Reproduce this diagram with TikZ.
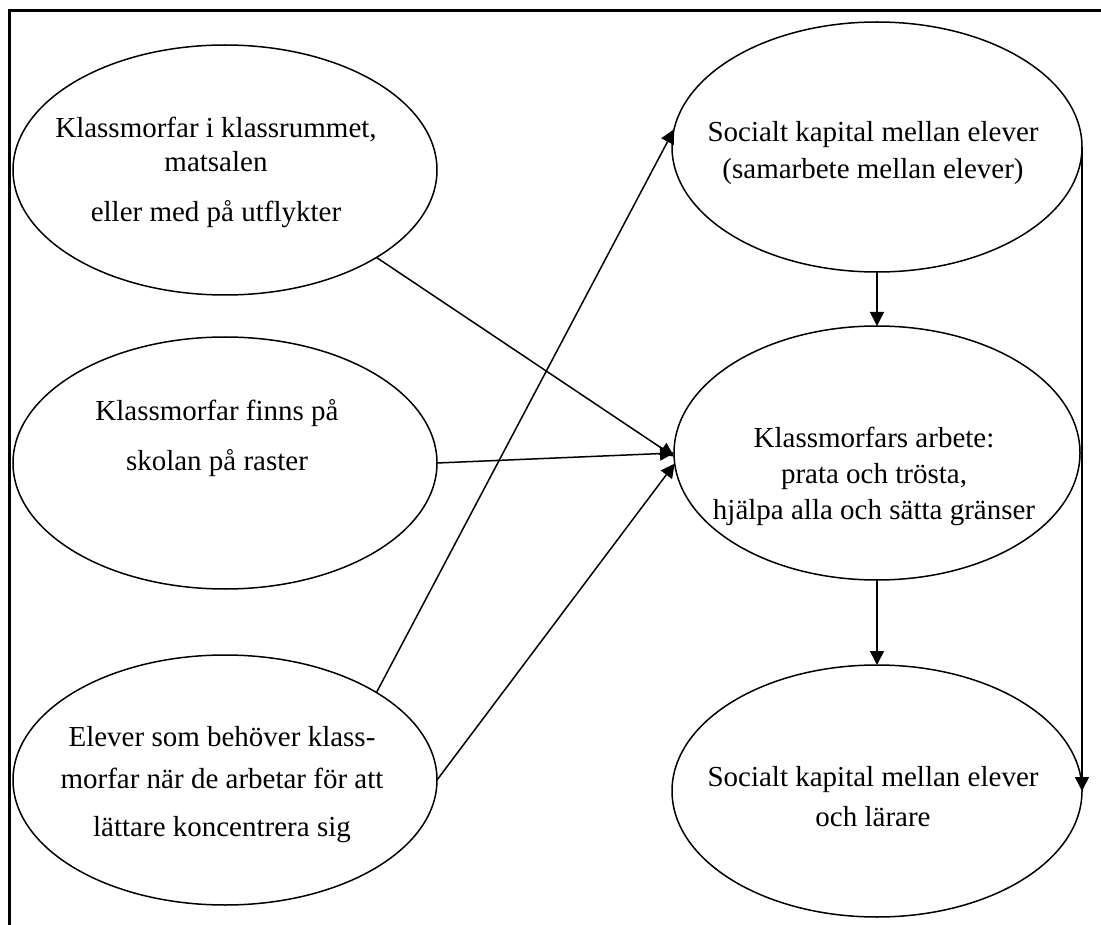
\documentclass[tikz,border=0pt]{standalone}
\usepackage{fontspec}
\setmainfont{Liberation Serif}
\usetikzlibrary{shapes.geometric,arrows.meta}
\begin{document}
\begin{tikzpicture}[x=1pt,y=-1pt,
  oval/.style={draw,shape=ellipse,line width=1.5pt,inner sep=0pt,outer sep=0pt},
  txt/.style={align=center,inner sep=0pt,font=\fontsize{29}{34}\selectfont},
  arr/.style={line width=1.5pt,-{Triangle[length=14pt,width=14pt]}}]
\useasboundingbox (0,0) rectangle (1101,925);
\draw[line width=3pt] (9,925) -- (9,11) -- (1101,11);
% ellipses
\node[oval,minimum width=424pt,minimum height=250pt] (L1) at (225,170) {};
\node[oval,minimum width=424pt,minimum height=252pt] (L2) at (225,463) {};
\node[oval,minimum width=424pt,minimum height=250pt] (L3) at (225,780) {};
\node[oval,minimum width=410pt,minimum height=250pt] (R1) at (877,147) {};
\node[oval,minimum width=406pt,minimum height=254pt] (R2) at (877,453) {};
\node[oval,minimum width=410pt,minimum height=252pt] (R3) at (877,791) {};
% texts
\node[txt] (t1) at (216,172) {Klassmorfar i klassrummet,\\ matsalen\\[16pt] eller med på utflykter};
\node[txt] (t2) at (217,438) {Klassmorfar finns på\\[16pt] skolan på raster};
\node[txt] (t3) at (222,785) {Elever som behöver klass-\\[8pt] morfar när de arbetar för att\\[14pt] lättare koncentrera sig};
\node[txt] (t4) at (873,153) {Socialt kapital mellan elever\\[3pt] (samarbete mellan elever)};
\node[txt] (t5) at (874,476) {Klassmorfars arbete:\\[2pt] prata och trösta,\\[2pt] hjälpa alla och sätta gränser};
\node[txt] (t6) at (873,797) {Socialt kapital mellan elever\\[6pt] och lärare};
% connectors
\draw[arr] (L1.-30) -- (R2.181);
\draw[arr] (L2.east) -- (R2.180);
\draw[arr] (L3.east) -- (R2.183);
\draw[arr] (L3.30) -- (R1.175);
\draw[arr] (R1.south) -- (R2.north);
\draw[arr] (R2.south) -- (R3.north);
\draw[arr] (R1.east) -- (R3.east);
\end{tikzpicture}
\end{document}
